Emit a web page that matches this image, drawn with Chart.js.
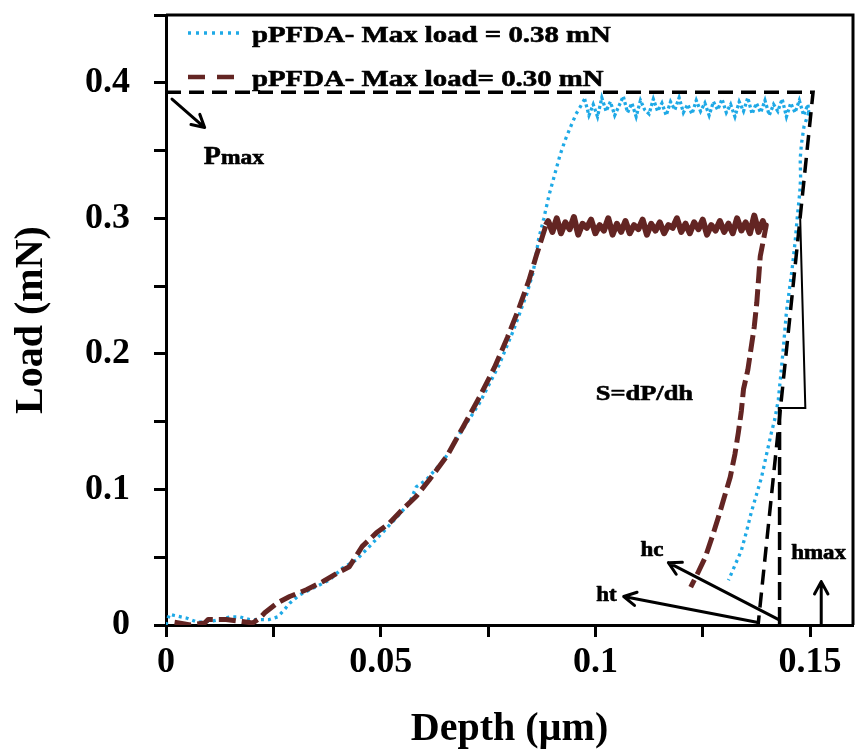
<!DOCTYPE html>
<html>
<head>
<meta charset="utf-8">
<script src="https://cdn.jsdelivr.net/npm/chart.js@4"></script>
<style>
  body { margin: 0; background: #fff; }
  canvas { display: block; }
</style>
</head>
<body>
<canvas id="load-depth-chart" width="855" height="756"></canvas>
<script>
// series (depth in µm, load in mN)
let seriesNames = ['pPFDA- Max load = 0.38 mN', 'pPFDA- Max load= 0.30 mN']

let blueDepth = [0.0000, 0.0008, 0.0020, 0.0049, 0.0074, 0.0110, 0.0149, 0.0172, 0.0195, 0.0218, 0.0240, 0.0260, 0.0272, 0.0288, 0.0310, 0.0341, 0.0380, 0.0411, 0.0443, 0.0474, 0.0504, 0.0536, 0.0567, 0.0583, 0.0606, 0.0648, 0.0680, 0.0729, 0.0776, 0.0810, 0.0840, 0.0855, 0.0868, 0.0880, 0.0892, 0.0905, 0.0918, 0.0930, 0.0943, 0.0955, 0.0968,
    0.0975, 0.0985, 0.0995, 0.1005, 0.1015, 0.1025, 0.1035, 0.1045, 0.1055, 0.1065, 0.1075, 0.1085, 0.1095, 0.1105, 0.1115, 0.1125, 0.1135, 0.1145, 0.1155, 0.1165, 0.1175, 0.1185, 0.1195, 0.1205, 0.1215, 0.1225, 0.1235, 0.1245, 0.1255, 0.1265, 0.1275, 0.1285, 0.1295, 0.1305, 0.1315, 0.1325, 0.1335, 0.1345, 0.1355, 0.1365, 0.1375, 0.1385, 0.1395, 0.1405, 0.1415, 0.1425, 0.1435, 0.1445, 0.1455, 0.1465, 0.1475, 0.1485, 0.1495,
    0.1497, 0.1486, 0.1480, 0.1477, 0.1478, 0.1476, 0.1470, 0.1465, 0.1458, 0.1450, 0.1445, 0.1438, 0.1432, 0.1426, 0.1418, 0.1410, 0.1398, 0.1387, 0.1375, 0.1363, 0.1352, 0.1340, 0.1325, 0.1310]
let blueLoad = [0.000, 0.008, 0.007, 0.005, 0.002, 0.003, 0.006, 0.006, 0.004, 0.004, 0.004, 0.006, 0.010, 0.016, 0.022, 0.027, 0.033, 0.042, 0.048, 0.058, 0.068, 0.079, 0.090, 0.102, 0.107, 0.122, 0.139, 0.163, 0.192, 0.218, 0.244, 0.260, 0.285, 0.300, 0.317, 0.332, 0.347, 0.358, 0.368, 0.377, 0.384,
    0.388, 0.376, 0.384, 0.375, 0.389, 0.379, 0.386, 0.376, 0.383, 0.390, 0.378, 0.385, 0.375, 0.387, 0.380, 0.377, 0.388, 0.379, 0.385, 0.376, 0.386, 0.380, 0.389, 0.378, 0.384, 0.377, 0.387, 0.379, 0.385, 0.376, 0.386, 0.380, 0.388, 0.378, 0.384, 0.375, 0.386, 0.379, 0.389, 0.377, 0.385, 0.378, 0.387, 0.376, 0.384, 0.379, 0.388, 0.375, 0.385, 0.378, 0.387, 0.376, 0.384,
    0.378, 0.368, 0.355, 0.344, 0.330, 0.319, 0.300, 0.282, 0.262, 0.243, 0.231, 0.205, 0.185, 0.166, 0.152, 0.142, 0.125, 0.109, 0.096, 0.083, 0.069, 0.055, 0.044, 0.033]

let brownDepth = [0.0020, 0.0040, 0.0056, 0.0090, 0.0098, 0.0140, 0.0165, 0.0202, 0.0218, 0.0230, 0.0258, 0.0288, 0.0327, 0.0365, 0.0397, 0.0427, 0.0457, 0.0490, 0.0520, 0.0550, 0.0583, 0.0613, 0.0655, 0.0690, 0.0730, 0.0765, 0.0795, 0.0820, 0.0845, 0.0862, 0.0875, 0.0885,
    0.0890, 0.0900, 0.0910, 0.0920, 0.0930, 0.0940, 0.0950, 0.0960, 0.0970, 0.0980, 0.0990, 0.1000, 0.1010, 0.1020, 0.1030, 0.1040, 0.1050, 0.1060, 0.1070, 0.1080, 0.1090, 0.1100, 0.1110, 0.1120, 0.1130, 0.1140, 0.1150, 0.1160, 0.1170, 0.1180, 0.1190, 0.1200, 0.1210, 0.1220, 0.1230, 0.1240, 0.1250, 0.1260, 0.1270, 0.1280, 0.1290, 0.1300, 0.1310, 0.1320, 0.1330, 0.1340, 0.1350, 0.1360, 0.1370, 0.1380, 0.1390, 0.1396,
    0.1398, 0.1392, 0.1384, 0.1380, 0.1376, 0.1370, 0.1362, 0.1355, 0.1345, 0.1340, 0.1333, 0.1325, 0.1314, 0.1300, 0.1287, 0.1272, 0.1256, 0.1238, 0.1222]
let brownLoad = [0.002, 0.001, 0.000, 0.0015, 0.004, 0.004, 0.003, 0.0015, 0.005, 0.009, 0.016, 0.021, 0.026, 0.032, 0.038, 0.043, 0.058, 0.068, 0.075, 0.085, 0.095, 0.107, 0.125, 0.145, 0.168, 0.190, 0.212, 0.232, 0.254, 0.272, 0.285, 0.295,
    0.298, 0.290, 0.300, 0.289, 0.297, 0.292, 0.301, 0.288, 0.296, 0.293, 0.299, 0.289, 0.295, 0.291, 0.300, 0.288, 0.296, 0.290, 0.298, 0.289, 0.295, 0.292, 0.299, 0.288, 0.296, 0.291, 0.297, 0.289, 0.295, 0.293, 0.300, 0.290, 0.296, 0.289, 0.297, 0.292, 0.299, 0.288, 0.295, 0.291, 0.298, 0.290, 0.296, 0.289, 0.300, 0.291, 0.297, 0.289, 0.302, 0.290, 0.298, 0.292,
    0.295, 0.285, 0.272, 0.255, 0.238, 0.220, 0.203, 0.188, 0.174, 0.158, 0.142, 0.126, 0.109, 0.094, 0.080, 0.065, 0.050, 0.038, 0.028]

// construction lines: Pmax level + unloading tangent, contact depth line, slope triangle
let tangentDepth = [0, 0.1507, 0.1379]
let tangentLoad = [0.393, 0.393, 0]
let hcLineDepth = [0.1429, 0.1429]
let hcLineLoad = [0, 0.160]
let triangleDepth = [0.1425, 0.1489, 0.1477]
let triangleLoad = [0.160, 0.160, 0.300]

// axis ticks
let xTickLabels = ['0', '0.05', '0.1', '0.15']
let yTickLabels = ['0', '0.1', '0.2', '0.3', '0.4']

function toPoints(xs, ys) {
    return xs.map(function (x, i) { return {x: x, y: ys[i]} })
}

let blueColor = '#1ea9e6'
let brownColor = '#632523'
let serif = "'Liberation Serif', 'Times New Roman', serif"

// annotations in data units (arrows from -> to)
let arrows = [
    {from: [0.0014, 0.388], to: [0.0090, 0.367]},
    {from: [0.1427, 0.004], to: [0.1170, 0.046]},
    {from: [0.1376, 0.002], to: [0.1066, 0.021]},
    {from: [0.1526, 0.001], to: [0.1526, 0.032]}
]
let notes = [
    {text: 'S=dP/dh', at: [0.1001, 0.166], size: 22, sx: 1.2},
    {text: 'hc', at: [0.1105, 0.051], size: 20, sx: 1.15},
    {text: 'ht', at: [0.1002, 0.018], size: 20, sx: 1.15},
    {text: 'hmax', at: [0.1456, 0.049], size: 20, sx: 1.15}
]

// bold serif text, a bit wider than plain Liberation like the source figure
function stretchText(ctx, text, x, y, size, sx) {
    ctx.save()
    ctx.translate(x, y)
    ctx.scale(sx, 1)
    ctx.font = 'bold ' + size + 'px ' + serif
    ctx.lineWidth = 0.6
    ctx.strokeStyle = ctx.fillStyle
    ctx.fillText(text, 0, 0)
    ctx.strokeText(text, 0, 0)
    let w = ctx.measureText(text).width * sx
    ctx.restore()
    return w
}

function drawArrow(ctx, x1, y1, x2, y2) {
    let a = Math.atan2(y2 - y1, x2 - x1)
    let head = 14
    ctx.beginPath()
    ctx.moveTo(x1, y1)
    ctx.lineTo(x2, y2)
    ctx.moveTo(x2 - head * Math.cos(a - 0.5), y2 - head * Math.sin(a - 0.5))
    ctx.lineTo(x2, y2)
    ctx.lineTo(x2 - head * Math.cos(a + 0.5), y2 - head * Math.sin(a + 0.5))
    ctx.stroke()
}

let extras = {
    id: 'extras',
    afterDatasetsDraw(chart) {
        let ctx = chart.ctx
        let area = chart.chartArea
        let xs = chart.scales.x
        let ys = chart.scales.y
        ctx.save()

        // top and right frame
        ctx.strokeStyle = '#000'
        ctx.lineWidth = 3
        ctx.beginPath()
        ctx.moveTo(area.left, area.top)
        ctx.lineTo(area.right, area.top)
        ctx.lineTo(area.right, area.bottom)
        ctx.stroke()

        // arrows
        ctx.lineWidth = 3
        ctx.lineCap = 'round'
        ctx.lineJoin = 'round'
        arrows.forEach(function (ar) {
            drawArrow(ctx, xs.getPixelForValue(ar.from[0]), ys.getPixelForValue(ar.from[1]),
                xs.getPixelForValue(ar.to[0]), ys.getPixelForValue(ar.to[1]))
        })

        // text notes
        ctx.fillStyle = '#000'
        ctx.textBaseline = 'alphabetic'
        ctx.textAlign = 'left'
        notes.forEach(function (n) {
            stretchText(ctx, n.text, xs.getPixelForValue(n.at[0]), ys.getPixelForValue(n.at[1]), n.size, n.sx)
        })
        let px = xs.getPixelForValue(0.0088)
        let py = ys.getPixelForValue(0.340)
        let pw = stretchText(ctx, 'P', px, py, 25, 1.12)
        stretchText(ctx, 'max', px + pw, py, 21, 1.12)

        // legend inside the plot
        let rows = [
            {label: seriesNames[0], color: blueColor, dash: [3, 5], width: 3.3, y: 33},
            {label: seriesNames[1], color: brownColor, dash: [17, 12], width: 4.5, y: 77}
        ]
        rows.forEach(function (r) {
            ctx.save()
            ctx.strokeStyle = r.color
            ctx.lineWidth = r.width
            ctx.lineCap = 'butt'
            ctx.setLineDash(r.dash)
            ctx.beginPath()
            ctx.moveTo(188, r.y)
            ctx.lineTo(244, r.y)
            ctx.stroke()
            ctx.restore()
            stretchText(ctx, r.label, 252, r.y + 9, 24, 1.2)
        })
        ctx.restore()
    }
}

// the hold segments look solid in the figure (dense noisy points)
function onHold(seg, low, from, to) {
    return seg.p0.parsed.y > low && seg.p1.parsed.y > low && seg.p0.parsed.x >= from && seg.p1.parsed.x >= from && seg.p0.parsed.x <= to && seg.p1.parsed.x <= to
}

let ctx = document.querySelector('#load-depth-chart').getContext('2d')

let chart = new Chart(ctx, {
    type: 'scatter',
    data: {
        datasets: [
            {data: toPoints(tangentDepth, tangentLoad), showLine: true, borderColor: '#000', borderWidth: 3.5, borderDash: [15, 8], pointRadius: 0},
            {data: toPoints(hcLineDepth, hcLineLoad), showLine: true, borderColor: '#000', borderWidth: 3.5, borderDash: [18, 7], pointRadius: 0},
            {data: toPoints(triangleDepth, triangleLoad), showLine: true, borderColor: '#000', borderWidth: 2, pointRadius: 0},
            {
                label: seriesNames[1], data: toPoints(brownDepth, brownLoad), showLine: true, borderColor: brownColor,
                borderWidth: 5, borderDash: [17, 6], borderJoinStyle: 'round', pointRadius: 0, tension: 0,
                segment: {
                    borderDash: function (seg) { return onHold(seg, 0.284, 0.0885, 0.1397) ? [] : undefined },
                    borderWidth: function (seg) { return onHold(seg, 0.284, 0.0885, 0.1397) ? 6 : undefined }
                }
            },
            {
                label: seriesNames[0], data: toPoints(blueDepth, blueLoad), showLine: true, borderColor: blueColor,
                borderWidth: 3.3, borderDash: [3, 4], pointRadius: 0, tension: 0,
                segment: {
                    borderDash: function (seg) { return onHold(seg, 0.37, 0.0970, 0.1500) ? [3, 2.5] : undefined }
                }
            }
        ]
    },
    options: {
        responsive: false,
        animation: false,
        layout: {padding: {top: 15, right: 2, left: 0, bottom: 0}},
        plugins: {legend: {display: false}, tooltip: {enabled: false}},
        scales: {
            x: {
                type: 'linear',
                min: 0,
                max: 0.16,
                afterFit: function (scale) {
                    scale.height = 131
                    scale.paddingLeft = 0
                    scale.paddingRight = 0
                },
                border: {display: true, color: '#000', width: 3},
                grid: {display: true, drawOnChartArea: false, drawTicks: true, tickLength: 12, tickWidth: 3, tickColor: '#000', color: '#000'},
                ticks: {
                    stepSize: 0.025,
                    includeBounds: false,
                    autoSkip: false,
                    maxRotation: 0,
                    padding: 4,
                    color: '#000',
                    font: {family: serif, weight: 'bold', size: 36},
                    callback: function (v) {
                        let i = Math.round(v / 0.05)
                        return Math.abs(v - i * 0.05) < 1e-6 ? xTickLabels[i] : ''
                    }
                },
                title: {display: true, text: 'Depth (µm)', color: '#000', padding: {top: 0, bottom: 2}, font: {family: serif, weight: 'bold', size: 40}}
            },
            y: {
                type: 'linear',
                min: 0,
                max: 0.45,
                afterFit: function (scale) {
                    scale.width = 166
                    scale.paddingTop = 0
                    scale.paddingBottom = 0
                },
                border: {display: true, color: '#000', width: 3},
                grid: {display: true, drawOnChartArea: false, drawTicks: true, tickLength: 12, tickWidth: 3, tickColor: '#000', color: '#000'},
                ticks: {
                    stepSize: 0.05,
                    autoSkip: false,
                    padding: 24,
                    color: '#000',
                    font: {family: serif, weight: 'bold', size: 36},
                    callback: function (v) {
                        let i = Math.round(v / 0.1)
                        return Math.abs(v - i * 0.1) < 1e-6 ? yTickLabels[i] : ''
                    }
                },
                title: {display: true, text: 'Load (mN)', color: '#000', padding: {top: 8, bottom: 0}, font: {family: serif, weight: 'bold', size: 40}}
            }
        }
    },
    plugins: [extras]
})
</script>
</body>
</html>
